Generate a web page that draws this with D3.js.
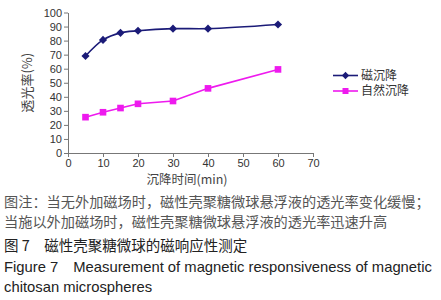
<!DOCTYPE html>
<html>
<head>
<meta charset="utf-8">
<script src="https://cdn.jsdelivr.net/npm/d3@7"></script>
<style>
  body { margin: 0; background: #fff; }
  svg { display: block; }
</style>
</head>
<body>
<svg id="chart" width="441" height="300"></svg>
<script>
// sedimentation time (min)
const times = [5, 10, 15, 20, 30, 40, 60];
// light transmittance (%)
const magnetic = [69, 80.5, 85.5, 87, 88.5, 88.5, 91.5];
const natural = [25.5, 29, 32, 35, 37, 46, 59.5];
const seriesNames = ["磁沉降", "自然沉降"];
const xTicks = [0, 10, 20, 30, 40, 50, 60, 70];
const yTicks = [0, 10, 20, 30, 40, 50, 60, 70, 80, 90, 100];
const captionLines = [
    "图注：当无外加磁场时，磁性壳聚糖微球悬浮液的透光率变化缓慢；",
    "当施以外加磁场时，磁性壳聚糖微球悬浮液的透光率迅速升高"
];
const figTitleCn = "图 7　磁性壳聚糖微球的磁响应性测定";
const figTitleEn = ["Figure 7　Measurement of magnetic responsiveness of magnetic", "chitosan microspheres"];

const svg = d3.select("#chart");
const cjk = "'Noto Sans CJK SC', sans-serif";
const latin = "'Liberation Sans', Arial, sans-serif";

let x = d3.scaleLinear().domain([0, 70]).range([68, 313]);
let y = d3.scaleLinear().domain([0, 100]).range([153, 12.5]);

let xAxis = svg.append("g")
    .attr("transform", `translate(0, ${y(0)})`)
    .call(d3.axisBottom(x).tickValues(xTicks).tickSize(4).tickSizeOuter(0));
let yAxis = svg.append("g")
    .attr("transform", `translate(${x(0)}, 0)`)
    .call(d3.axisLeft(y).tickValues(yTicks).tickSize(4).tickSizeOuter(0));

[xAxis, yAxis].forEach(a => {
    a.selectAll("path, line").attr("stroke", "#777");
    a.selectAll("text")
        .attr("fill", "#333")
        .style("font-family", latin)
        .style("font-size", "11px");
});
xAxis.selectAll("text").attr("y", 6);
yAxis.selectAll("text").attr("x", -6);

svg.append("text")
    .attr("transform", `translate(32, ${y(50)}) rotate(-90)`)
    .attr("text-anchor", "middle")
    .attr("fill", "#444")
    .style("font-family", cjk)
    .style("font-size", "13px")
    .text("透光率(%)");

svg.append("text")
    .attr("x", 187).attr("y", 184)
    .attr("text-anchor", "middle")
    .attr("fill", "#444")
    .style("font-family", cjk)
    .style("font-size", "12.5px")
    .text("沉降时间(min)");

let series = [
    { name: seriesNames[0], values: magnetic, color: "#1b1b78", shape: d3.symbolDiamond2, size: 42, curve: d3.curveCatmullRom },
    { name: seriesNames[1], values: natural, color: "#ee1aee", shape: d3.symbolSquare, size: 44, curve: d3.curveLinear }
];

series.forEach(s => {
    let pts = times.map((t, i) => [t, s.values[i]]);
    svg.append("path")
        .datum(pts)
        .attr("fill", "none")
        .attr("stroke", s.color)
        .attr("stroke-width", 1.6)
        .attr("d", d3.line().x(d => x(d[0])).y(d => y(d[1])).curve(s.curve));
    svg.append("g").selectAll("path")
        .data(pts)
        .join("path")
        .attr("transform", d => `translate(${x(d[0])}, ${y(d[1])})`)
        .attr("d", d3.symbol().type(s.shape).size(s.size))
        .attr("fill", s.color);
});

// legend
let legend = svg.append("g").attr("transform", "translate(333, 75.5)");
series.forEach((s, i) => {
    let g = legend.append("g").attr("transform", `translate(0, ${i * 15.5})`);
    g.append("line").attr("x1", 0).attr("x2", 25)
        .attr("stroke", s.color).attr("stroke-width", 1.6);
    g.append("path").attr("transform", "translate(12.5, 0)")
        .attr("d", d3.symbol().type(s.shape).size(s.size - 8))
        .attr("fill", s.color);
    g.append("text").attr("x", 28).attr("dy", "0.36em")
        .attr("fill", "#333")
        .style("font-family", cjk)
        .style("font-size", "12px")
        .text(s.name);
});

// caption
captionLines.forEach((t, i) => {
    svg.append("text")
        .attr("x", 4).attr("y", 207 + i * 20)
        .attr("fill", "#555")
        .style("font-family", cjk)
        .style("font-size", "14.2px")
        .text(t);
});
svg.append("text")
    .attr("x", 4).attr("y", 250.5)
    .attr("fill", "#222")
    .style("font-family", cjk)
    .style("font-size", "14.5px")
    .text(figTitleCn);
figTitleEn.forEach((t, i) => {
    svg.append("text")
        .attr("x", 4).attr("y", 272 + i * 20)
        .attr("fill", "#222")
        .style("font-family", latin)
        .style("font-size", "14.8px")
        .text(t);
});
</script>
</body>
</html>
